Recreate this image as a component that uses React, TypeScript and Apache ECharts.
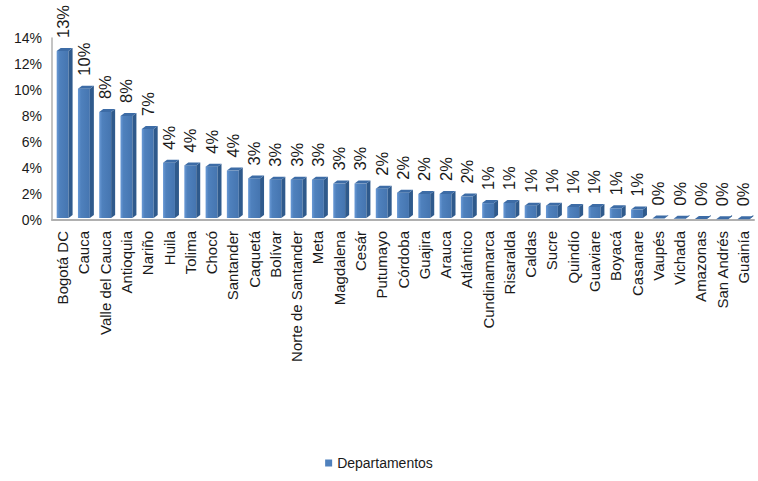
import React, { useEffect, useRef } from "react";
import * as echarts from "echarts";

const categories = [
  "Bogotá DC", "Cauca", "Valle del Cauca", "Antioquia", "Nariño", "Huila", "Tolima", "Chocó",
  "Santander", "Caquetá", "Bolívar", "Norte de Santander", "Meta", "Magdalena", "Cesár",
  "Putumayo", "Córdoba", "Guajira", "Arauca", "Atlántico", "Cundinamarca", "Risaralda",
  "Caldas", "Sucre", "Quindío", "Guaviare", "Boyacá", "Casanare", "Vaupés", "Vichada",
  "Amazonas", "San Andrés", "Guainía",
];

const values = [
  13.0, 10.1, 8.3, 8.0, 7.0, 4.4, 4.2, 4.1,
  3.8, 3.2, 3.1, 3.1, 3.1, 2.8, 2.8,
  2.4, 2.1, 2.0, 2.0, 1.8, 1.3, 1.3,
  1.1, 1.1, 1.0, 1.0, 0.9, 0.8, 0.12, 0.1,
  0.08, 0.06, 0.05,
];

const yTicks = { min: 0, max: 14, interval: 2 };
const seriesName = "Departamentos";

export default function App() {
  const ref = useRef<HTMLDivElement>(null);
  useEffect(() => {
    if (!ref.current) return;
    const chart = echarts.init(ref.current, undefined, { renderer: "svg" });
    const font = "'Liberation Sans', Arial, sans-serif";
    const dx = 4;
    const dy = 3;
    chart.setOption({
      animation: false,
      backgroundColor: "#ffffff",
      grid: { left: 52, right: 4, top: 38, bottom: 261, containLabel: false },
      legend: {
        data: [{ name: seriesName, icon: "rect" }],
        bottom: 6,
        left: "center",
        itemWidth: 7,
        itemHeight: 7,
        itemGap: 4,
        textStyle: { fontFamily: font, fontSize: 14, color: "#1a1a1a" },
      },
      xAxis: {
        type: "category",
        data: categories,
        axisLine: { show: true, lineStyle: { color: "#b0b0b0", width: 2 } },
        axisTick: { show: false },
        axisLabel: {
          interval: 0,
          rotate: 90,
          margin: 11,
          fontFamily: font,
          fontSize: 15,
          color: "#1a1a1a",
        },
      },
      yAxis: {
        type: "value",
        min: yTicks.min,
        max: yTicks.max,
        interval: yTicks.interval,
        axisLine: { show: true, lineStyle: { color: "#b0b0b0", width: 1.5 } },
        axisTick: { show: false },
        splitLine: { show: false },
        axisLabel: {
          formatter: "{value}%",
          fontFamily: font,
          fontSize: 14,
          color: "#1a1a1a",
          margin: 10,
        },
      },
      series: [
        {
          name: seriesName,
          type: "custom",
          itemStyle: { color: "#4F81BD" },
          data: values.map((v, i) => [i, v]),
          encode: { x: 0, y: 1 },
          renderItem: (params: any, api: any) => {
            const idx = api.value(0);
            const v = api.value(1);
            const top = api.coord([idx, v]);
            const base = api.coord([idx, 0]);
            const band = api.size([1, 0])[0];
            const w = band * 0.56;
            const l = top[0] - w / 2;
            const r = top[0] + w / 2;
            const t = top[1];
            const b = base[1] - 2;
            return {
              type: "group",
              children: [
                {
                  type: "rect",
                  shape: { x: l, y: t, width: w, height: Math.max(b - t, 0) },
                  style: {
                    fill: new echarts.graphic.LinearGradient(0, 0, 1, 0, [
                      { offset: 0, color: "#6a9ad6" },
                      { offset: 0.25, color: "#4F81BD" },
                      { offset: 1, color: "#4575b0" },
                    ]),
                  },
                },
                {
                  type: "polygon",
                  shape: { points: [[r, t], [r + dx, t - dy], [r + dx, b - dy], [r, b]] },
                  style: { fill: "#2f5a8c" },
                },
                {
                  type: "polygon",
                  shape: { points: [[l, t], [l + dx, t - dy], [r + dx, t - dy], [r, t]] },
                  style: { fill: "#3d6ca6" },
                },
              ],
            };
          },
        },
        {
          name: "labels",
          type: "bar",
          data: values,
          barWidth: "56%",
          silent: true,
          itemStyle: { color: "transparent" },
          label: {
            show: true,
            position: "top",
            rotate: 90,
            align: "left",
            verticalAlign: "middle",
            distance: 11,
            offset: [2, 0],
            fontFamily: font,
            fontSize: 16.5,
            color: "#1a1a1a",
            formatter: (p: any) => Math.round(p.value) + "%",
          },
        },
      ],
    });
    return () => chart.dispose();
  }, []);
  return (
    <div
      ref={ref}
      style={{ position: "absolute", left: 0, top: 0, width: 758, height: 481 }}
    />
  );
}
